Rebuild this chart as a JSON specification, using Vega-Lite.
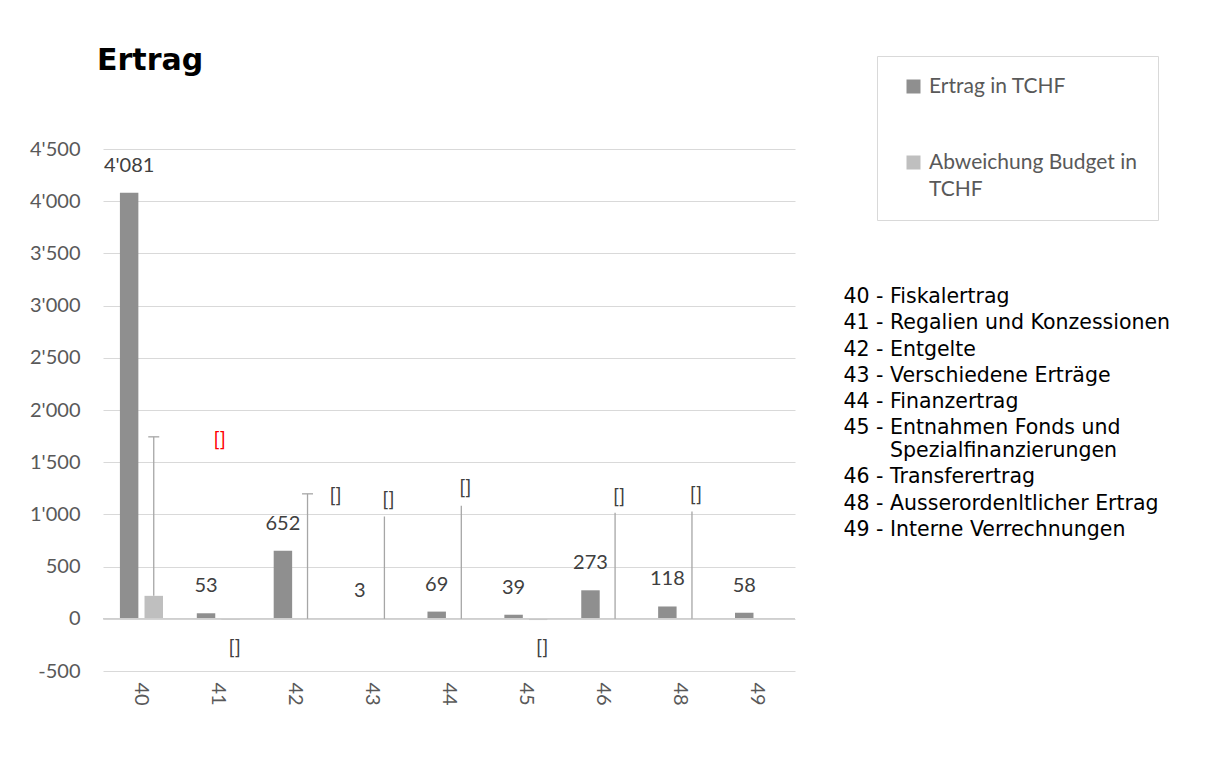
{
  "$schema": "https://vega.github.io/schema/vega-lite/v6.json",
  "autosize": {"type": "none"},
  "width": 692,
  "height": 522,
  "padding": {"left": 103, "top": 149, "right": 412, "bottom": 101},
  "background": "white",
  "config": {
    "locale": {"number": {"decimal": ".", "thousands": "'", "grouping": [3], "currency": ["", ""], "minus": "-"}},
    "view": {"stroke": null},
    "font": "Lato"
  },
  "title": {
    "text": "Ertrag",
    "anchor": "start",
    "frame": "group",
    "font": "DejaVu Sans",
    "fontSize": 30,
    "fontWeight": "bold",
    "color": "#000000",
    "baseline": "alphabetic",
    "offset": -44,
    "dx": -6
  },
  "datasets": {
    "bars": [
      {"cat": "40", "series": "Ertrag in TCHF", "value": 4081},
      {"cat": "41", "series": "Ertrag in TCHF", "value": 53},
      {"cat": "42", "series": "Ertrag in TCHF", "value": 652},
      {"cat": "43", "series": "Ertrag in TCHF", "value": 3},
      {"cat": "44", "series": "Ertrag in TCHF", "value": 69},
      {"cat": "45", "series": "Ertrag in TCHF", "value": 39},
      {"cat": "46", "series": "Ertrag in TCHF", "value": 273},
      {"cat": "48", "series": "Ertrag in TCHF", "value": 118},
      {"cat": "49", "series": "Ertrag in TCHF", "value": 58},
      {"cat": "40", "series": "Abweichung Budget in TCHF", "value": 220, "note": "[]", "callout": 1714, "leader": 1743},
      {"cat": "41", "series": "Abweichung Budget in TCHF", "value": -10, "note": "[]", "callout": -278, "leader": null},
      {"cat": "42", "series": "Abweichung Budget in TCHF", "value": 0, "note": "[]", "callout": 1178, "leader": 1197},
      {"cat": "43", "series": "Abweichung Budget in TCHF", "value": 0, "note": "[]", "callout": 1139, "leader": 980},
      {"cat": "44", "series": "Abweichung Budget in TCHF", "value": 0, "note": "[]", "callout": 1254, "leader": 1082},
      {"cat": "45", "series": "Abweichung Budget in TCHF", "value": -12, "note": "[]", "callout": -278, "leader": null},
      {"cat": "46", "series": "Abweichung Budget in TCHF", "value": 0, "note": "[]", "callout": 1171, "leader": 1015},
      {"cat": "48", "series": "Abweichung Budget in TCHF", "value": 0, "note": "[]", "callout": 1187, "leader": 1027},
      {"cat": "49", "series": "Abweichung Budget in TCHF", "value": null, "note": null, "callout": null, "leader": null}
    ],
    "desc": [
      {"desc": "40 - Fiskalertrag"},
      {"desc": "41 - Regalien und Konzessionen"},
      {"desc": "42 - Entgelte"},
      {"desc": "43 - Verschiedene Erträge"},
      {"desc": "44 - Finanzertrag"},
      {"desc": "45 - Entnahmen Fonds und Spezialfinanzierungen"},
      {"desc": "46 - Transferertrag"},
      {"desc": "48 - Ausserordenltlicher Ertrag"},
      {"desc": "49 - Interne Verrechnungen"}
    ]
  },
  "data": {"name": "bars"},
  "encoding": {
    "x": {
      "field": "cat",
      "type": "nominal",
      "scale": {"paddingInner": 0.44, "paddingOuter": 0.22},
      "axis": {
        "title": null,
        "labelAngle": 90,
        "labelFont": "Lato",
        "labelFontSize": 20,
        "labelColor": "#595959",
        "labelPadding": 11,
        "ticks": false,
        "domain": false,
        "grid": false
      }
    },
    "xOffset": {
      "field": "series",
      "type": "nominal",
      "sort": ["Ertrag in TCHF", "Abweichung Budget in TCHF"],
      "scale": {"paddingInner": 0.25}
    }
  },
  "layer": [
    {
      "mark": {"type": "bar"},
      "encoding": {
        "y": {
          "field": "value",
          "type": "quantitative",
          "scale": {"domain": [-500, 4500], "nice": false, "zero": false},
          "axis": {
            "title": null,
            "values": [-500, 0, 500, 1000, 1500, 2000, 2500, 3000, 3500, 4000, 4500],
            "format": ",.0f",
            "grid": true,
            "gridColor": "#d9d9d9",
            "gridWidth": 1,
            "domain": false,
            "ticks": false,
            "labelFont": "Lato",
            "labelFontSize": 20,
            "labelColor": "#595959",
            "labelPadding": 23
          }
        },
        "color": {
          "field": "series",
          "type": "nominal",
          "scale": {"domain": ["Ertrag in TCHF", "Abweichung Budget in TCHF"], "range": ["#8f8f8f", "#bfbfbf"]},
          "legend": {
            "title": null,
            "orient": "none",
            "legendX": 774,
            "legendY": -93,
            "direction": "vertical",
            "fillColor": "#ffffff",
            "strokeColor": "#d9d9d9",
            "padding": 20,
            "symbolOffset": 6,
            "symbolType": "square",
            "symbolSize": 196,
            "symbolStrokeWidth": 0,
            "labelFont": "Lato",
            "labelFontSize": 21,
            "labelColor": "#595959",
            "labelOffset": 5,
            "labelLimit": 400,
            "rowPadding": 54,
            "labelExpr": "datum.label == 'Abweichung Budget in TCHF' ? ['Abweichung Budget in', 'TCHF'] : datum.label",
            "encode": {"labels": {"update": {"lineHeight": {"value": 27.3}}}}
          }
        }
      }
    },
    {
      "data": {"values": [{"zero": 0}]},
      "mark": {"type": "rule", "color": "#cfcfcf", "strokeWidth": 1.5},
      "encoding": {"y": {"field": "zero", "type": "quantitative"}, "x": null, "xOffset": null}
    },
    {
      "transform": [{"filter": "datum.series == 'Ertrag in TCHF'"}],
      "mark": {"type": "text", "dy": -27, "baseline": "middle", "font": "Lato", "fontSize": 20, "color": "#404040"},
      "encoding": {
        "y": {"field": "value", "type": "quantitative"},
        "text": {"field": "value", "type": "quantitative", "format": ",.0f"}
      }
    },
    {
      "transform": [{"filter": "datum.leader != null"}],
      "mark": {"type": "rule", "color": "#a6a6a6", "strokeWidth": 1.3},
      "encoding": {
        "y": {"field": "value", "type": "quantitative"},
        "y2": {"field": "leader"}
      }
    },
    {
      "transform": [{"filter": "(datum.cat == '40' || datum.cat == '42') && datum.leader != null"}],
      "mark": {"type": "tick", "orient": "horizontal", "size": 11, "thickness": 1.3, "color": "#a6a6a6", "opacity": 1},
      "encoding": {
        "xOffset": {
          "field": "series",
          "type": "nominal",
          "sort": ["Ertrag in TCHF", "Abweichung Budget in TCHF"],
          "bandPosition": 0.8
        },
        "y": {"field": "leader", "type": "quantitative"}
      }
    },
    {
      "transform": [{"filter": "datum.cat == '40' && datum.callout != null"}],
      "mark": {"type": "text", "dx": 66, "baseline": "middle", "font": "Lato", "fontSize": 20, "color": "#ff0000"},
      "encoding": {
        "y": {"field": "callout", "type": "quantitative"},
        "text": {"field": "note", "type": "nominal"}
      }
    },
    {
      "transform": [{"filter": "datum.cat == '42' && datum.callout != null"}],
      "mark": {"type": "text", "dx": 28, "baseline": "middle", "font": "Lato", "fontSize": 20, "color": "#404040"},
      "encoding": {
        "y": {"field": "callout", "type": "quantitative"},
        "text": {"field": "note", "type": "nominal"}
      }
    },
    {
      "transform": [{"filter": "datum.cat != '40' && datum.cat != '42' && datum.callout != null"}],
      "mark": {"type": "text", "dx": 4, "baseline": "middle", "font": "Lato", "fontSize": 20, "color": "#404040"},
      "encoding": {
        "y": {"field": "callout", "type": "quantitative"},
        "text": {"field": "note", "type": "nominal"}
      }
    },
    {
      "data": {"name": "desc"},
      "mark": {"type": "point", "opacity": 0},
      "encoding": {
        "x": null,
        "xOffset": null,
        "shape": {
          "field": "desc",
          "type": "nominal",
          "legend": {
            "title": null,
            "orient": "none",
            "legendX": 720,
            "legendY": 138,
            "symbolSize": 0,
            "symbolOpacity": 0,
            "labelOffset": 0,
            "padding": 0,
            "rowPadding": 5.2,
            "labelFont": "DejaVu Sans",
            "labelFontSize": 20.5,
            "labelColor": "#000000",
            "labelLimit": 600,
            "labelExpr": "datum.label == '45 - Entnahmen Fonds und Spezialfinanzierungen' ? ['45 - Entnahmen Fonds und', '\\u200b\\u2007\\u2007\\u2003Spezialfinanzierungen'] : datum.label",
            "encode": {"labels": {"update": {"lineHeight": {"value": 25.7}}}}
          }
        }
      }
    }
  ]
}
